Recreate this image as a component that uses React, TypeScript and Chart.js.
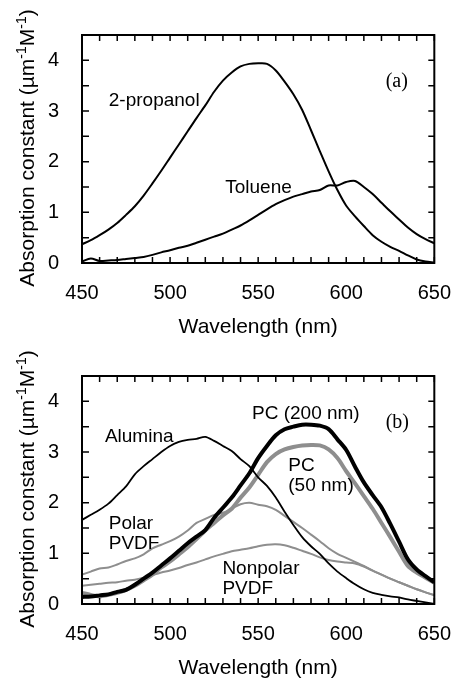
import React, { useEffect, useRef } from "react";
import { Chart, registerables } from "chart.js";

Chart.register(...registerables);

// ---------- data ----------
const wavelengths = [
  450, 455, 460, 465, 470, 475, 480, 485, 490, 495, 500, 505, 510, 515, 520, 525, 530, 535, 540, 545,
  550, 555, 560, 565, 570, 575, 580, 585, 590, 595, 600, 605, 610, 615, 620, 625, 630, 635, 640, 645, 650,
];

const propanol = [
  0.37, 0.45, 0.55, 0.66, 0.79, 0.95, 1.12, 1.33, 1.57, 1.82, 2.08, 2.34, 2.6, 2.86, 3.11, 3.38, 3.6, 3.76, 3.88, 3.93,
  3.94, 3.93, 3.8, 3.58, 3.33, 3.02, 2.62, 2.21, 1.81, 1.44, 1.13, 0.92, 0.73, 0.55, 0.42, 0.32, 0.24, 0.15, 0.07, 0.03, 0.01,
];
const toluene = [
  0.03, 0.09, 0.04, 0.05, 0.06, 0.08, 0.1, 0.12, 0.16, 0.21, 0.25, 0.3, 0.34, 0.4, 0.46, 0.52, 0.58, 0.66, 0.74, 0.84,
  0.95, 1.06, 1.16, 1.24, 1.31, 1.36, 1.41, 1.44, 1.53, 1.53, 1.6, 1.62, 1.5, 1.36, 1.19, 1.02, 0.86, 0.7, 0.57, 0.47, 0.39,
];

const alumina = [
  1.66, 1.76, 1.86, 1.98, 2.15, 2.32, 2.56, 2.72, 2.86, 3.0, 3.12, 3.2, 3.24, 3.26, 3.3, 3.22, 3.12, 3.02, 2.86, 2.72,
  2.5, 2.33, 2.1, 1.82, 1.56, 1.32, 1.14, 0.99, 0.8, 0.64, 0.51, 0.39, 0.29, 0.22, 0.18, 0.15, 0.13, 0.09, 0.06, 0.03, 0.0,
];
const pc200 = [
  0.14, 0.15, 0.17, 0.19, 0.24, 0.28, 0.38, 0.5, 0.62, 0.76, 0.9, 1.05, 1.2, 1.33, 1.46, 1.7, 1.9, 2.1, 2.34, 2.58,
  2.88, 3.12, 3.33, 3.45, 3.5, 3.54, 3.54, 3.52, 3.45, 3.25, 3.04, 2.71, 2.4, 2.15, 1.91, 1.58, 1.23, 0.88, 0.68, 0.55, 0.43,
];
const pc50 = [
  0.22, 0.18, 0.15, 0.18, 0.22, 0.28, 0.36, 0.47, 0.58, 0.72, 0.84, 0.98, 1.12, 1.28, 1.45, 1.6, 1.75, 1.88, 2.1, 2.3,
  2.55, 2.8, 2.96, 3.05, 3.1, 3.13, 3.14, 3.13, 3.05, 2.88, 2.62, 2.38, 2.13, 1.88, 1.6, 1.32, 1.03, 0.75, 0.62, 0.52, 0.42,
];
const polarPvdf = [
  0.58, 0.64, 0.7, 0.72, 0.78, 0.85, 0.9, 0.98, 1.1, 1.17, 1.24, 1.33, 1.45, 1.6, 1.68, 1.76, 1.8, 1.88, 1.97, 2.0,
  1.96, 1.93, 1.86, 1.74, 1.62, 1.5, 1.37, 1.24, 1.1, 0.99, 0.91, 0.83, 0.75, 0.66, 0.58, 0.5, 0.43, 0.36, 0.29, 0.23, 0.18,
];
const nonpolarPvdf = [
  0.36, 0.38, 0.4, 0.42, 0.43, 0.46, 0.48, 0.52, 0.57, 0.62, 0.66, 0.71, 0.77, 0.82, 0.88, 0.94, 0.99, 1.04, 1.07, 1.1,
  1.14, 1.17, 1.18, 1.16, 1.11, 1.05, 0.99, 0.92, 0.87, 0.84, 0.82, 0.8, 0.74, 0.66, 0.58, 0.5, 0.43, 0.36, 0.29, 0.23, 0.17,
];

const xTickLabels = [450, 500, 550, 600, 650];
const yTickLabels = [0, 1, 2, 3, 4];
const xMinorStep = 10;
const yMinorStep = 0.5;
const xTitle = "Wavelength (nm)";

// ---------- styles ----------
const SANS = '"Liberation Sans", Arial, sans-serif';
const SERIF = '"Liberation Serif", "Times New Roman", serif';
const BLACK = "#000000";
const GRAY = "#8e8e8e";

const toPoints = (vals: number[]) => vals.map((v, i) => ({ x: wavelengths[i], y: v }));

type Note = { text: string; nm: number; abs: number; serif?: boolean };

const notesA: Note[] = [
  { text: "2-propanol", nm: 465.2, abs: 3.09 },
  { text: "Toluene", nm: 531.3, abs: 1.39 },
  { text: "(a)", nm: 622.4, abs: 3.47, serif: true },
];
const notesB: Note[] = [
  { text: "PC (200 nm)", nm: 546.5, abs: 3.66 },
  { text: "(b)", nm: 622.4, abs: 3.47, serif: true },
  { text: "Alumina", nm: 463.0, abs: 3.19 },
  { text: "PC", nm: 567.1, abs: 2.63 },
  { text: "(50 nm)", nm: 567.1, abs: 2.24 },
  { text: "Polar", nm: 465.2, abs: 1.475 },
  { text: "PVDF", nm: 465.2, abs: 1.08 },
  { text: "Nonpolar", nm: 529.7, abs: 0.6 },
  { text: "PVDF", nm: 529.7, abs: 0.205 },
];

const datasetsA = [
  { label: "2-propanol", data: toPoints(propanol), borderColor: BLACK, borderWidth: 2 },
  { label: "Toluene", data: toPoints(toluene), borderColor: BLACK, borderWidth: 2 },
];
const datasetsB = [
  { label: "PC (200 nm)", data: toPoints(pc200), borderColor: BLACK, borderWidth: 4 },
  { label: "Alumina", data: toPoints(alumina), borderColor: BLACK, borderWidth: 1.8 },
  { label: "PC (50 nm)", data: toPoints(pc50), borderColor: GRAY, borderWidth: 4 },
  { label: "Polar PVDF", data: toPoints(polarPvdf), borderColor: GRAY, borderWidth: 2 },
  { label: "Nonpolar PVDF", data: toPoints(nonpolarPvdf), borderColor: GRAY, borderWidth: 2 },
];

const framePlugin = {
  id: "frameTicks",
  afterDatasetsDraw(chart: any) {
    const { ctx, chartArea: a, scales } = chart;
    const x = scales.x;
    const y = scales.y;
    ctx.save();
    ctx.strokeStyle = BLACK;
    ctx.lineWidth = 1.5;
    ctx.beginPath();
    const tl = 6;
    for (let v = x.min; v <= x.max + 1e-6; v += xMinorStep) {
      const px = x.getPixelForValue(v);
      ctx.moveTo(px, a.bottom);
      ctx.lineTo(px, a.bottom - tl);
      ctx.moveTo(px, a.top);
      ctx.lineTo(px, a.top + tl);
    }
    for (let v = y.min; v <= y.max + 1e-6; v += yMinorStep) {
      const py = y.getPixelForValue(v);
      ctx.moveTo(a.left, py);
      ctx.lineTo(a.left + tl + 1, py);
      ctx.moveTo(a.right, py);
      ctx.lineTo(a.right - tl, py);
    }
    ctx.stroke();
    ctx.lineWidth = 2;
    ctx.strokeRect(a.left, a.top, a.right - a.left, a.bottom - a.top);
    ctx.restore();
  },
};

const notesPlugin = {
  id: "notes",
  afterDraw(chart: any, _args: any, opts: any) {
    const { ctx, scales } = chart;
    const notes: Note[] = opts.notes || [];
    ctx.save();
    ctx.fillStyle = BLACK;
    ctx.textBaseline = "alphabetic";
    ctx.textAlign = "left";
    for (const n of notes) {
      ctx.font = n.serif ? `20px ${SERIF}` : `19px ${SANS}`;
      ctx.fillText(n.text, scales.x.getPixelForValue(n.nm), scales.y.getPixelForValue(n.abs));
    }
    ctx.restore();
  },
};

const yTitlePlugin = {
  id: "yTitle",
  afterDraw(chart: any) {
    const { ctx } = chart;
    const parts = [
      { t: "Absorption constant (µm", sup: false },
      { t: "-1", sup: true },
      { t: "M", sup: false },
      { t: "-1", sup: true },
      { t: ")", sup: false },
    ];
    const mainFont = `21px ${SANS}`;
    const supFont = `14px ${SANS}`;
    ctx.save();
    let total = 0;
    const widths = parts.map((p) => {
      ctx.font = p.sup ? supFont : mainFont;
      const w = ctx.measureText(p.t).width;
      total += w;
      return w;
    });
    ctx.translate(0, 148);
    ctx.rotate(-Math.PI / 2);
    ctx.fillStyle = BLACK;
    ctx.textBaseline = "alphabetic";
    ctx.textAlign = "left";
    let pos = -total / 2;
    parts.forEach((p, i) => {
      ctx.font = p.sup ? supFont : mainFont;
      ctx.fillText(p.t, pos, p.sup ? 25.5 : 33.5);
      pos += widths[i];
    });
    ctx.restore();
  },
};

function Panel({ datasets, notes }: { datasets: any[]; notes: Note[] }) {
  const ref = useRef<HTMLCanvasElement>(null);
  useEffect(() => {
    if (!ref.current) return;
    const tickFont = { family: SANS, size: 20 };
    const chart = new Chart(ref.current, {
      type: "line",
      data: {
        datasets: datasets.map((d) => ({ ...d, pointRadius: 0, fill: false, tension: 0.3 })),
      },
      options: {
        animation: false,
        responsive: false,
        devicePixelRatio: 1,
        layout: { padding: { left: 0, right: 18, top: 22, bottom: 0 } },
        plugins: {
          legend: { display: false },
          tooltip: { enabled: false },
          notes: { notes },
        } as any,
        scales: {
          x: {
            type: "linear",
            min: 450,
            max: 650,
            afterBuildTicks: (s: any) => {
              s.ticks = xTickLabels.map((v) => ({ value: v }));
            },
            afterFit: (s: any) => {
              s.height = 78;
            },
            grid: { display: false, drawTicks: false },
            border: { display: false },
            ticks: { padding: 18, font: tickFont, color: BLACK, maxRotation: 0, autoSkip: false },
            title: {
              display: true,
              text: xTitle,
              color: BLACK,
              font: { family: SANS, size: 21 },
              padding: { top: 0, bottom: 1 },
            },
          },
          y: {
            type: "linear",
            min: 0,
            max: 4.5,
            afterBuildTicks: (s: any) => {
              s.ticks = yTickLabels.map((v) => ({ value: v }));
            },
            afterFit: (s: any) => {
              s.width = 82;
            },
            grid: { display: false, drawTicks: false },
            border: { display: false },
            ticks: { padding: 23, font: tickFont, color: BLACK },
          },
        },
      } as any,
      plugins: [framePlugin, notesPlugin, yTitlePlugin],
    });
    return () => chart.destroy();
  }, []);
  return (
    <div style={{ width: 469, height: 341 }}>
      <canvas ref={ref} width={469} height={341} style={{ display: "block", width: 469, height: 341 }} />
    </div>
  );
}

export default function App() {
  useEffect(() => {
    document.body.style.margin = "0";
    document.body.style.background = "#ffffff";
  }, []);
  return (
    <div style={{ width: 469, height: 682, background: "#fff" }}>
      <Panel datasets={datasetsA} notes={notesA} />
      <Panel datasets={datasetsB} notes={notesB} />
    </div>
  );
}
